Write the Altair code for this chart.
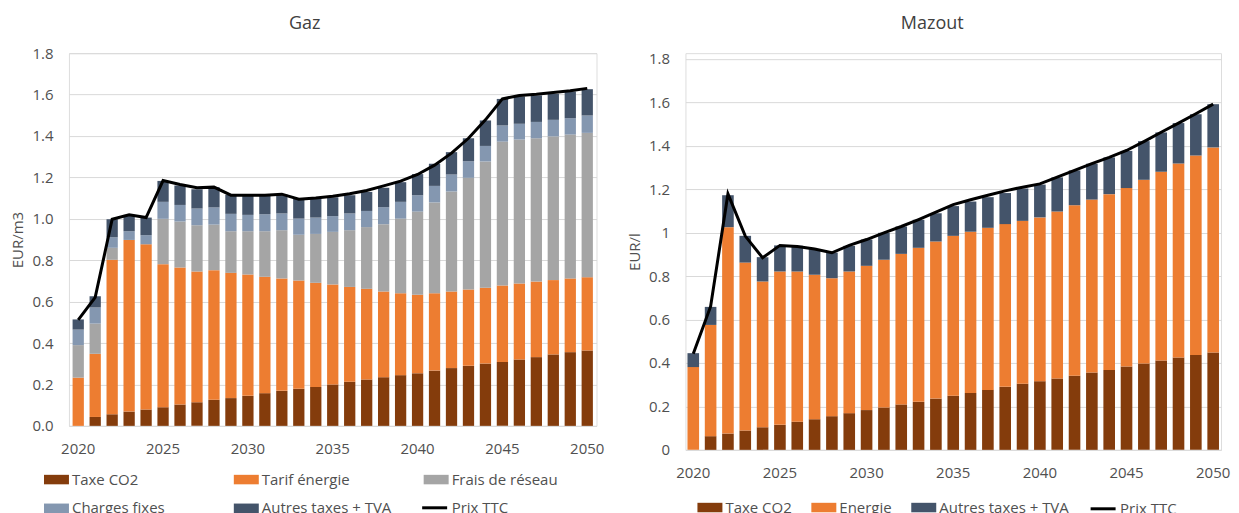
import altair as alt
import pandas as pd

FONT = "Open Sans"

years = list(range(2020, 2051))

# ---- Gaz (EUR/m3) ----
gaz_taxe_co2 = [0.000, 0.043, 0.056, 0.069, 0.079, 0.090, 0.103, 0.114, 0.126, 0.134,
                0.145, 0.158, 0.169, 0.179, 0.188, 0.200, 0.213, 0.224, 0.235, 0.245,
                0.254, 0.267, 0.279, 0.290, 0.301, 0.309, 0.320, 0.332, 0.345, 0.356, 0.364]
gaz_tarif_energie = [0.233, 0.305, 0.746, 0.829, 0.798, 0.691, 0.662, 0.631, 0.626, 0.605,
                     0.586, 0.562, 0.543, 0.523, 0.503, 0.483, 0.458, 0.438, 0.414, 0.396,
                     0.379, 0.374, 0.370, 0.369, 0.366, 0.369, 0.367, 0.365, 0.359, 0.356, 0.354]
gaz_frais_reseau = [0.157, 0.146, 0.058, 0.000, 0.000, 0.219, 0.222, 0.224, 0.220, 0.201,
                    0.209, 0.220, 0.233, 0.221, 0.236, 0.254, 0.274, 0.298, 0.325, 0.360,
                    0.402, 0.438, 0.483, 0.539, 0.610, 0.695, 0.696, 0.692, 0.694, 0.695, 0.697]
gaz_charges_fixes = [0.075, 0.078, 0.051, 0.042, 0.044, 0.082, 0.080, 0.081, 0.083, 0.084,
                     0.079, 0.082, 0.081, 0.078, 0.079, 0.076, 0.081, 0.078, 0.082, 0.081,
                     0.079, 0.080, 0.082, 0.080, 0.075, 0.078, 0.076, 0.079, 0.080, 0.079, 0.084]
gaz_autres_taxes = [0.049, 0.054, 0.087, 0.079, 0.085, 0.101, 0.094, 0.093, 0.098, 0.092,
                    0.095, 0.092, 0.091, 0.095, 0.095, 0.091, 0.088, 0.092, 0.094, 0.095,
                    0.102, 0.107, 0.108, 0.111, 0.123, 0.128, 0.132, 0.128, 0.126, 0.129, 0.127]
gaz_prix_ttc = [0.512, 0.621, 0.998, 1.019, 1.006, 1.185, 1.166, 1.150, 1.153, 1.114,
                1.114, 1.114, 1.119, 1.095, 1.100, 1.109, 1.121, 1.137, 1.159, 1.182,
                1.214, 1.259, 1.317, 1.389, 1.478, 1.579, 1.596, 1.602, 1.610, 1.618, 1.630]

gaz_names = ["Taxe CO2", "Tarif énergie", "Frais de réseau", "Charges fixes", "Autres taxes + TVA"]
gaz_colors = ["#843C0C", "#ED7D31", "#A5A5A5", "#8497B0", "#44546A"]
gaz_series = [gaz_taxe_co2, gaz_tarif_energie, gaz_frais_reseau, gaz_charges_fixes, gaz_autres_taxes]

# ---- Mazout (EUR/l) ----
maz_taxe_co2 = [0.000, 0.063, 0.075, 0.089, 0.104, 0.115, 0.129, 0.141, 0.155, 0.169,
                0.183, 0.195, 0.209, 0.221, 0.236, 0.249, 0.262, 0.276, 0.290, 0.304,
                0.316, 0.328, 0.341, 0.356, 0.368, 0.384, 0.397, 0.411, 0.425, 0.437, 0.448]
maz_energie = [0.381, 0.512, 0.950, 0.773, 0.671, 0.706, 0.692, 0.665, 0.635, 0.652,
               0.664, 0.680, 0.693, 0.709, 0.723, 0.736, 0.742, 0.746, 0.749, 0.750,
               0.754, 0.769, 0.785, 0.796, 0.809, 0.821, 0.846, 0.869, 0.893, 0.918, 0.944]
maz_autres_taxes = [0.064, 0.083, 0.147, 0.123, 0.112, 0.120, 0.118, 0.118, 0.118, 0.118,
                    0.121, 0.124, 0.126, 0.129, 0.130, 0.137, 0.139, 0.141, 0.143, 0.149,
                    0.151, 0.157, 0.160, 0.165, 0.169, 0.171, 0.178, 0.181, 0.186, 0.190, 0.199]
maz_prix_ttc = [0.442, 0.660, 1.178, 0.984, 0.884, 0.941, 0.936, 0.924, 0.907, 0.941,
                0.968, 0.999, 1.028, 1.060, 1.094, 1.129, 1.151, 1.172, 1.192, 1.209,
                1.224, 1.255, 1.286, 1.317, 1.346, 1.378, 1.419, 1.462, 1.504, 1.547, 1.591]

maz_names = ["Taxe CO2", "Energie", "Autres taxes + TVA"]
maz_colors = ["#843C0C", "#ED7D31", "#44546A"]
maz_series = [maz_taxe_co2, maz_energie, maz_autres_taxes]

x_tick_values = [2020, 2025, 2030, 2035, 2040, 2045, 2050]
y_tick_values = [0, 0.2, 0.4, 0.6, 0.8, 1.0, 1.2, 1.4, 1.6, 1.8]

LINE_LABEL = "Prix TTC"
TXT = "#505050"


def long_df(names, series):
    rows = []
    for i, (n, vals) in enumerate(zip(names, series)):
        for yr, v in zip(years, vals):
            rows.append({"annee": yr, "serie": n, "valeur": v, "ordre": i})
    return pd.DataFrame(rows)


def price_df(vals):
    return pd.DataFrame({"annee": years, "prix": vals, "lbl": [LINE_LABEL] * len(years)})


def panel(title, title_dx, title_offset, names, colors, series, prix, ytitle, yfmt, ymax,
          w, h, pin, pout, lx, ly, cols, galign, colpad, sx, sy):
    xenc = alt.X("annee:O",
                 scale=alt.Scale(paddingInner=pin, paddingOuter=pout),
                 axis=alt.Axis(values=x_tick_values, labelAngle=0, title=None, ticks=False,
                               domain=False, labelPadding=16, labelFontSize=15,
                               labelFont=FONT, labelColor=TXT, grid=False))
    yscale = alt.Scale(domain=[0, ymax], nice=False)
    bars = alt.Chart(long_df(names, series)).mark_bar().encode(
        x=xenc,
        y=alt.Y("valeur:Q", stack="zero", scale=yscale,
                axis=alt.Axis(values=y_tick_values, format=yfmt, title=ytitle, ticks=False,
                              domain=False, labelPadding=16, labelFontSize=15, labelFont=FONT,
                              labelColor=TXT, titleFont=FONT, titleFontSize=15,
                              titleFontWeight="normal", titleColor=TXT, titlePadding=6,
                              gridColor="#D9D9D9", gridWidth=1)),
        color=alt.Color("serie:N", scale=alt.Scale(domain=names, range=colors),
                        legend=alt.Legend(title=None, orient="none", legendX=lx, legendY=ly,
                                          direction="horizontal", columns=cols,
                                          gridAlign=galign, columnPadding=colpad,
                                          rowPadding=8, padding=0,
                                          symbolType="M-1,-0.38H1V0.38H-1Z", symbolSize=625,
                                          symbolStrokeWidth=0, labelFont=FONT,
                                          labelFontSize=15, labelColor=TXT, labelOffset=3,
                                          labelLimit=300)),
        order=alt.Order("ordre:Q", sort="ascending"),
    )
    line = alt.Chart(price_df(prix)).mark_line(strokeWidth=3).encode(
        x=alt.X("annee:O"),
        y=alt.Y("prix:Q", scale=yscale),
        stroke=alt.Stroke("lbl:N", scale=alt.Scale(domain=[LINE_LABEL], range=["#000000"]),
                          legend=alt.Legend(title=None, orient="none", legendX=sx, legendY=sy,
                                            padding=0, symbolType="stroke", symbolSize=625,
                                            symbolStrokeWidth=3, labelFont=FONT,
                                            labelFontSize=15, labelColor=TXT, labelOffset=3)),
    )
    return alt.layer(bars, line).resolve_scale(color="independent", stroke="independent").properties(
        width=w, height=h,
        title=alt.TitleParams(title, font=FONT, fontSize=18, fontWeight="normal",
                              color="#404040", anchor="middle", dx=title_dx, offset=title_offset),
    )


left = panel("Gaz", -28, 13, gaz_names, gaz_colors, gaz_series, gaz_prix_ttc, "EUR/m3", ".1f", 1.8,
             528, 373, 0.335, 0.214, -25, 414, 3, "all", 32, 352, 441)
right = panel("Mazout", -21, 18.8, maz_names, maz_colors, maz_series, maz_prix_ttc, "EUR/l", "~g", 1.8258,
              536, 397, 0.33, 0.117, 12, 442, 3, "each", 19, 404, 442)

chart = alt.hconcat(left, right, spacing=22).resolve_scale(
    color="independent", stroke="independent", x="independent", y="independent"
).properties(
    padding={"left": 2, "top": 6, "right": 0, "bottom": 0}
).configure_view(stroke=None).configure(background="white")

chart.save("out.html", embed_options={"renderer": "svg", "actions": False})
